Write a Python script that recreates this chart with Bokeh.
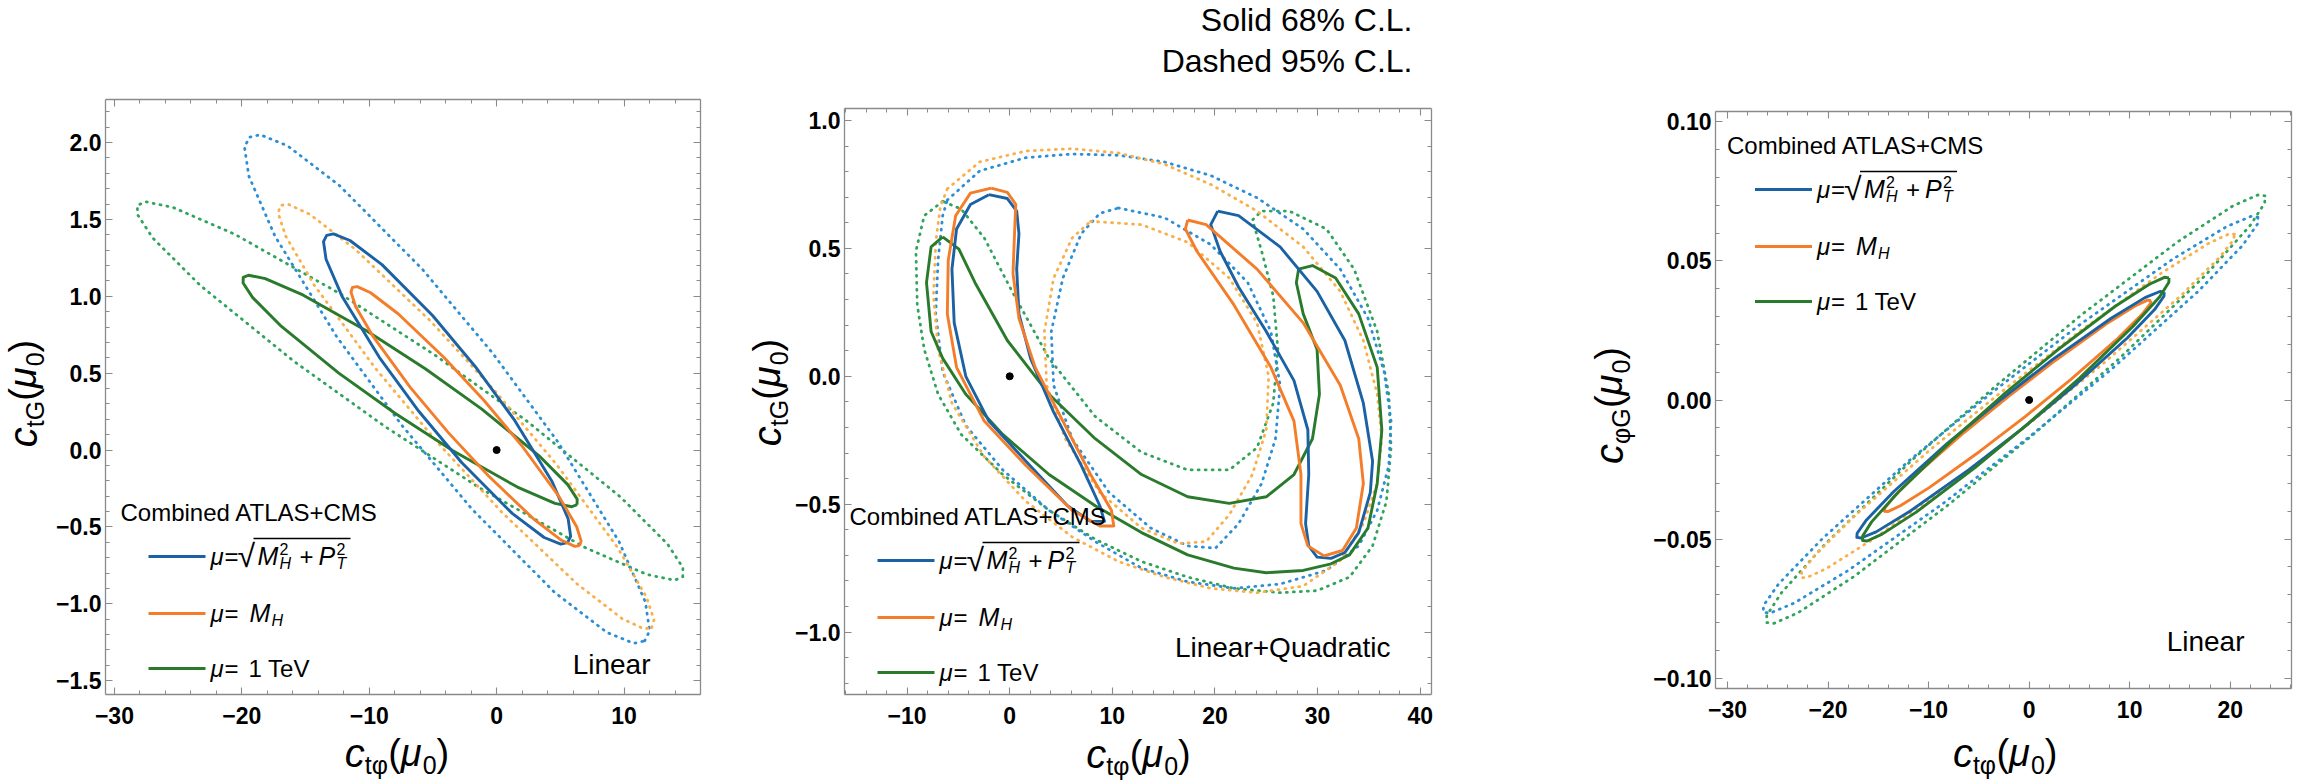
import math
from bokeh.plotting import figure
from bokeh.layouts import row
from bokeh.models import (Label, Arrow, LinearAxis, Range1d, SingleIntervalTicker,
                          CustomJSTickFormatter, CustomLabelingPolicy)
from bokeh.embed import file_html
from bokeh.resources import INLINE

# ---------------- data: panel 1 (Linear, c_tphi vs c_tG) ----------------
p1_blue68_x = [5.56, 5.81, 5.61, 4.36, 1.43, -1.67, -5.03, -9.00, -11.51, -12.81, -13.34, -13.59, -13.39, -12.14, -9.21, -6.11, -2.75, 1.22, 3.73, 5.03]
p1_blue68_y = [-0.602, -0.562, -0.447, -0.207, 0.191, 0.542, 0.875, 1.206, 1.363, 1.406, 1.396, 1.356, 1.241, 1.001, 0.603, 0.252, -0.081, -0.412, -0.569, -0.612]
p1_blue95_x = [11.62, 12.01, 11.67, 9.61, 4.78, -0.31, -5.83, -12.33, -16.43, -18.55, -19.40, -19.79, -19.45, -17.39, -12.56, -7.47, -1.96, 4.55, 8.65, 10.77]
p1_blue95_y = [-1.241, -1.176, -0.988, -0.596, 0.056, 0.630, 1.176, 1.720, 1.980, 2.051, 2.035, 1.970, 1.782, 1.390, 0.738, 0.164, -0.382, -0.926, -1.186, -1.257]
p1_orange68_x = [6.52, 6.63, 6.28, 4.90, 1.98, -0.99, -4.13, -7.71, -9.89, -10.94, -11.32, -11.43, -11.08, -9.70, -6.78, -3.81, -0.67, 2.91, 5.09, 6.14]
p1_orange68_y = [-0.622, -0.591, -0.499, -0.303, 0.028, 0.322, 0.602, 0.885, 1.023, 1.063, 1.058, 1.027, 0.935, 0.739, 0.408, 0.115, -0.166, -0.449, -0.587, -0.627]
p1_orange95_x = [12.17, 12.35, 11.76, 9.51, 4.72, -0.13, -5.25, -11.10, -14.64, -16.36, -16.97, -17.15, -16.56, -14.31, -9.52, -4.67, 0.45, 6.30, 9.84, 11.56]
p1_orange95_y = [-1.155, -1.105, -0.956, -0.636, -0.096, 0.384, 0.844, 1.306, 1.532, 1.599, 1.591, 1.541, 1.392, 1.072, 0.532, 0.052, -0.408, -0.870, -1.096, -1.163]
p1_green68_x = [6.31, 6.32, 5.58, 3.31, -1.19, -5.60, -10.15, -15.21, -18.16, -19.48, -19.89, -19.90, -19.16, -16.89, -12.39, -7.98, -3.43, 1.63, 4.58, 5.90]
p1_green68_y = [-0.355, -0.319, -0.225, -0.036, 0.268, 0.529, 0.773, 1.009, 1.115, 1.137, 1.123, 1.087, 0.993, 0.804, 0.500, 0.239, -0.005, -0.241, -0.347, -0.369]
p1_green95_x = [14.61, 14.62, 13.41, 9.70, 2.33, -4.87, -12.30, -20.56, -25.37, -27.54, -28.19, -28.20, -26.99, -23.28, -15.91, -8.71, -1.28, 6.98, 11.79, 13.96]
p1_green95_y = [-0.824, -0.765, -0.611, -0.304, 0.191, 0.619, 1.017, 1.404, 1.577, 1.615, 1.592, 1.533, 1.379, 1.072, 0.577, 0.150, -0.249, -0.636, -0.809, -0.847]

# ---------------- data: panel 2 (Linear+Quadratic, c_tphi vs c_tG) ----------------
p2_blue68a_x = [-2.03, -0.23, 0.68, 0.90, 0.68, 0.90, 2.03, 4.28, 6.98, 8.78, 9.23, 7.88, 5.63, 1.58, -2.03, -4.28, -5.41, -5.63, -5.18, -3.83]
p2_blue68a_y = [0.710, 0.695, 0.646, 0.558, 0.419, 0.244, 0.070, -0.140, -0.349, -0.506, -0.567, -0.567, -0.506, -0.332, -0.175, 0.000, 0.209, 0.419, 0.576, 0.672]
p2_orange68a_x = [-1.80, -0.23, 0.59, 0.45, 0.32, 0.90, 2.48, 5.18, 7.88, 9.91, 10.14, 8.78, 6.08, 1.58, -2.48, -5.18, -6.08, -5.99, -5.27, -3.83]
p2_orange68a_y = [0.736, 0.719, 0.672, 0.541, 0.401, 0.227, 0.035, -0.175, -0.384, -0.524, -0.585, -0.585, -0.524, -0.349, -0.175, 0.035, 0.244, 0.454, 0.628, 0.716]
p2_blue68b_x = [20.27, 22.30, 26.35, 29.95, 32.66, 34.46, 35.36, 35.14, 34.01, 32.66, 31.31, 29.95, 29.14, 28.83, 29.14, 29.05, 27.70, 25.00, 22.30, 20.50, 19.59]
p2_blue68b_y = [0.646, 0.628, 0.506, 0.332, 0.140, -0.105, -0.332, -0.454, -0.611, -0.689, -0.712, -0.707, -0.663, -0.576, -0.384, -0.209, -0.017, 0.175, 0.349, 0.489, 0.593]
p2_orange68b_x = [17.34, 19.14, 24.10, 28.60, 32.21, 34.01, 34.46, 33.78, 32.43, 30.63, 29.05, 28.38, 28.38, 27.70, 25.45, 21.85, 18.24, 17.12]
p2_orange68b_y = [0.611, 0.593, 0.419, 0.209, -0.035, -0.244, -0.419, -0.593, -0.681, -0.702, -0.663, -0.576, -0.384, -0.175, 0.035, 0.279, 0.489, 0.576]
p2_green68_x = [-6.53, -7.66, -8.11, -7.66, -6.53, -4.28, -0.68, 3.83, 8.33, 12.84, 17.34, 21.85, 25.00, 28.60, 31.31, 33.11, 34.91, 35.81, 36.26, 35.81, 34.01, 31.76, 29.50, 28.15, 27.93, 28.60, 29.95, 30.18, 29.50, 27.70, 25.00, 21.40, 17.34, 12.84, 8.33, 3.83, -0.23, -3.38, -4.95]
p2_green68_y = [0.545, 0.506, 0.366, 0.175, 0.070, -0.070, -0.227, -0.384, -0.506, -0.611, -0.698, -0.750, -0.768, -0.759, -0.733, -0.698, -0.593, -0.419, -0.209, 0.035, 0.244, 0.384, 0.433, 0.419, 0.366, 0.244, 0.105, -0.070, -0.244, -0.384, -0.471, -0.497, -0.471, -0.384, -0.244, -0.070, 0.140, 0.366, 0.497]
p2_blue95o_x = [-6.08, -2.93, 1.58, 6.08, 10.59, 15.09, 19.59, 24.10, 28.60, 32.21, 34.91, 36.49, 37.16, 36.94, 35.81, 34.01, 30.86, 26.35, 21.85, 17.34, 12.84, 8.33, 3.83, -0.68, -4.28, -6.53, -7.21, -6.98, -6.53]
p2_blue95o_y = [0.689, 0.803, 0.855, 0.869, 0.864, 0.838, 0.785, 0.698, 0.576, 0.419, 0.227, 0.017, -0.175, -0.349, -0.524, -0.663, -0.759, -0.812, -0.829, -0.803, -0.750, -0.646, -0.524, -0.366, -0.192, 0.017, 0.244, 0.454, 0.628]
p2_blue95i_x = [10.59, 15.09, 19.59, 23.20, 25.45, 26.35, 25.90, 24.55, 22.30, 20.05, 17.34, 13.74, 9.68, 6.08, 4.28, 4.05, 5.18, 6.98, 8.78]
p2_blue95i_y = [0.658, 0.620, 0.515, 0.366, 0.175, -0.035, -0.244, -0.419, -0.576, -0.672, -0.663, -0.593, -0.454, -0.244, -0.035, 0.175, 0.384, 0.558, 0.637]
p2_orange95o_x = [-6.08, -2.93, 1.58, 6.08, 10.59, 15.09, 19.59, 24.10, 28.60, 32.21, 34.46, 35.81, 36.26, 35.81, 34.46, 32.21, 28.60, 24.10, 19.59, 15.09, 10.59, 6.08, 1.58, -2.48, -5.63, -6.98, -7.43, -7.21, -6.76]
p2_orange95o_y = [0.733, 0.838, 0.881, 0.890, 0.873, 0.829, 0.750, 0.646, 0.506, 0.332, 0.140, -0.070, -0.244, -0.419, -0.576, -0.720, -0.820, -0.846, -0.829, -0.785, -0.724, -0.628, -0.489, -0.314, -0.105, 0.105, 0.314, 0.524, 0.663]
p2_orange95i_x = [7.88, 12.84, 17.34, 21.40, 24.10, 25.23, 25.00, 23.65, 21.40, 19.14, 16.44, 12.84, 8.78, 5.41, 3.60, 3.38, 4.28, 6.08]
p2_orange95i_y = [0.606, 0.593, 0.524, 0.384, 0.209, 0.000, -0.209, -0.384, -0.541, -0.646, -0.654, -0.593, -0.454, -0.244, -0.035, 0.175, 0.384, 0.541]
p2_green95_x = [-6.53, -8.33, -9.14, -9.01, -8.33, -6.98, -4.73, -0.68, 3.83, 8.33, 12.84, 17.34, 21.85, 26.35, 29.95, 33.11, 35.36, 36.71, 37.16, 36.94, 35.81, 33.56, 30.86, 27.25, 24.55, 23.65, 24.55, 25.68, 26.13, 25.68, 24.10, 21.40, 17.34, 12.84, 8.33, 3.83, 0.23, -2.48, -4.73]
p2_green95_y = [0.684, 0.628, 0.489, 0.279, 0.105, -0.070, -0.227, -0.384, -0.524, -0.637, -0.724, -0.785, -0.829, -0.846, -0.838, -0.785, -0.663, -0.489, -0.279, -0.070, 0.175, 0.419, 0.576, 0.646, 0.646, 0.611, 0.489, 0.314, 0.105, -0.105, -0.279, -0.366, -0.366, -0.297, -0.157, 0.070, 0.332, 0.541, 0.654]

# ---------------- data: panel 3 (Linear, c_tphi vs c_phiG) ----------------
p3_blue68_x = [13.44, 13.01, 11.52, 8.16, 2.32, -2.98, -8.14, -13.46, -16.18, -17.11, -17.14, -16.71, -15.22, -11.86, -6.02, -0.72, 4.44, 9.76, 12.48, 13.41]
p3_blue68_y = [0.0388, 0.0390, 0.0368, 0.0294, 0.0145, -0.0003, -0.0156, -0.0329, -0.0431, -0.0479, -0.0494, -0.0496, -0.0474, -0.0400, -0.0251, -0.0104, 0.0050, 0.0223, 0.0325, 0.0373]
p3_blue95_x = [22.76, 22.07, 19.68, 14.27, 4.86, -3.66, -11.97, -20.53, -24.92, -26.41, -26.46, -25.77, -23.38, -17.97, -8.56, -0.04, 8.27, 16.83, 21.22, 22.71]
p3_blue95_y = [0.0657, 0.0660, 0.0624, 0.0506, 0.0266, 0.0028, -0.0219, -0.0497, -0.0661, -0.0738, -0.0763, -0.0766, -0.0730, -0.0612, -0.0372, -0.0134, 0.0113, 0.0391, 0.0555, 0.0632]
p3_green68_x = [13.91, 13.46, 11.96, 8.57, 2.72, -2.57, -7.71, -12.98, -15.67, -16.56, -16.57, -16.12, -14.62, -11.23, -5.38, -0.09, 5.05, 10.32, 13.01, 13.90]
p3_green68_y = [0.0439, 0.0441, 0.0416, 0.0337, 0.0177, 0.0019, -0.0146, -0.0330, -0.0438, -0.0489, -0.0505, -0.0507, -0.0482, -0.0403, -0.0243, -0.0085, 0.0080, 0.0264, 0.0372, 0.0423]
p3_green95_x = [23.46, 22.74, 20.29, 14.79, 5.27, -3.33, -11.69, -20.27, -24.64, -26.10, -26.12, -25.40, -22.95, -17.45, -7.93, 0.67, 9.03, 17.61, 21.98, 23.44]
p3_green95_y = [0.0734, 0.0737, 0.0698, 0.0569, 0.0308, 0.0050, -0.0217, -0.0517, -0.0693, -0.0774, -0.0800, -0.0803, -0.0764, -0.0635, -0.0374, -0.0116, 0.0151, 0.0451, 0.0627, 0.0708]
p3_orange68_x = [12.12, 11.78, 10.53, 7.66, 2.64, -1.95, -6.44, -11.09, -13.49, -14.34, -14.40, -14.06, -12.81, -9.94, -4.92, -0.33, 4.16, 8.81, 11.21, 12.06]
p3_orange68_y = [0.0358, 0.0359, 0.0338, 0.0273, 0.0143, 0.0016, -0.0116, -0.0263, -0.0349, -0.0388, -0.0400, -0.0401, -0.0380, -0.0315, -0.0185, -0.0058, 0.0074, 0.0221, 0.0307, 0.0346]
p3_orange95_x = [20.43, 19.88, 17.85, 13.19, 5.01, -2.45, -9.75, -17.31, -21.23, -22.62, -22.71, -22.16, -20.13, -15.47, -7.29, 0.17, 7.47, 15.03, 18.95, 20.34]
p3_orange95_y = [0.0596, 0.0597, 0.0563, 0.0457, 0.0246, 0.0038, -0.0176, -0.0415, -0.0555, -0.0618, -0.0638, -0.0639, -0.0605, -0.0499, -0.0288, -0.0080, 0.0134, 0.0373, 0.0513, 0.0576]

# Standard-model point
sm_x = [0.0]
sm_y = [0.0]

legend_title = "Combined ATLAS+CMS"
cl_lines = ["Solid 68% C.L.", "Dashed 95% C.L."]
panel_tags = ["Linear", "Linear+Quadratic", "Linear"]

# ---------------- styling ----------------
FONT = "Liberation Sans"
AXC = "#8a8a8a"
C_B68, C_O68, C_G68 = "#1b62a5", "#f47d2a", "#2a7a2c"
C_B95, C_O95, C_G95 = "#2c8fd4", "#f9b04a", "#31a35c"
FIG_H = 781
BASE_SHIFT = 0.345   # Bokeh places Label text centred on its anchor; lift it to a baseline

W = {" ": .278, "(": .333, ")": .333, "+": .584, "=": .584, "0": .556, "1": .556, "2": .556,
     "c": .5, "t": .278, "G": .778, "φ": .66, "μ": .576, "M": .833, "H": .722, "P": .667,
     "T": .611, "e": .556, "V": .667, "√": .549}

OFF = {}


def tw(s, size):
    return sum(W.get(ch, 0.556) for ch in s) * size


def label(p, x, y, text, size, style="normal", angle=0.0, align="left"):
    ox, oy = OFF[p.id]
    if angle == 0.0:
        y = y + BASE_SHIFT * size
    else:
        x = x - BASE_SHIFT * size
    p.add_layout(Label(x=x + ox, y=y + oy, x_units="screen", y_units="screen", text=text,
                       text_font=FONT, text_font_size=f"{size}px", text_font_style=style,
                       text_color="black", text_align=align, text_baseline="alphabetic",
                       angle=angle))


def rich(p, x, y, pieces, vertical=False):
    total = sum(tw(t, s) for t, s, st, dy in pieces)
    pos = -total / 2.0
    for t, s, st, dy in pieces:
        if vertical:
            label(p, x - dy, y + pos, t, s, st, angle=math.pi / 2)
        else:
            label(p, x + pos, y + dy, t, s, st)
        pos += tw(t, s)


def hline(p, x0, x1, y, color, width):
    ox, oy = OFF[p.id]
    p.add_layout(Arrow(end=None, x_start=x0 + ox, y_start=y + oy, x_end=x1 + ox, y_end=y + oy,
                       start_units="screen", end_units="screen",
                       line_color=color, line_width=width))


def legend(p, tx, ty):
    label(p, tx, ty, legend_title, 24)
    ys = [ty - 36, ty - 93, ty - 148]
    for yy, c in zip(ys, [C_B68, C_O68, C_G68]):
        hline(p, tx + 28, tx + 85, yy, c, 3)
    x0 = tx + 90
    b = ys[0] - 8
    e1 = [(0, 0, "μ", 24, "italic"), (14, 0, "=", 24, "normal"), (27, -3, "√", 32, "normal"),
          (47, 0, "M", 25, "italic"), (69, -5, "H", 16, "italic"), (69, 10, "2", 16, "normal"),
          (89, 0, "+", 24, "normal"), (108, 0, "P", 25, "italic"), (126, -5, "T", 16, "italic"),
          (126, 10, "2", 16, "normal")]
    for dx, dy, t, s, st in e1:
        label(p, x0 + dx, b + dy, t, s, st)
    hline(p, x0 + 43, x0 + 140, b + 26, "black", 1.3)
    b = ys[1] - 8
    for dx, dy, t, s, st in [(0, 0, "μ", 24, "italic"), (14, 0, "=", 24, "normal"),
                             (39, 0, "M", 25, "italic"), (61, -5, "H", 16, "italic")]:
        label(p, x0 + dx, b + dy, t, s, st)
    b = ys[2] - 8
    for dx, dy, t, s, st in [(0, 0, "μ", 24, "italic"), (14, 0, "=", 24, "normal"),
                             (38, 0, "1 TeV", 24, "normal")]:
        label(p, x0 + dx, b + dy, t, s, st)


NO_LABELS = "return []"


def style_axis(ax, interval, dec, show, standoff, loc, bounds):
    ax.fixed_location = loc
    ax.bounds = bounds
    ax.ticker = SingleIntervalTicker(interval=interval, num_minor_ticks=5)
    ax.formatter = CustomJSTickFormatter(
        code=f"var v = Math.abs(tick) < 1e-9 ? 0 : tick; return v.toFixed({dec}).replace('-', '\\u2212');")
    ax.major_tick_in = 7
    ax.major_tick_out = 0
    ax.minor_tick_in = 4
    ax.minor_tick_out = 0
    ax.axis_line_color = AXC
    ax.axis_line_width = 1.3
    ax.major_tick_line_color = AXC
    ax.minor_tick_line_color = AXC
    ax.major_tick_line_width = 1.1
    ax.minor_tick_line_width = 1.0
    ax.major_label_text_font = FONT
    ax.major_label_text_font_style = "bold"
    ax.major_label_text_color = "black"
    ax.major_label_text_font_size = "23px"
    ax.major_label_standoff = standoff
    if not show:
        ax.major_label_policy = CustomLabelingPolicy(code=NO_LABELS)
    ax.axis_label = None


def make_panel(fig_w, box, xr, yr, yint, ydec):
    bl, bt, bw, bh = box
    sx = bw / (xr[1] - xr[0])
    sy = bh / (yr[1] - yr[0])
    x0 = xr[0] - bl / sx
    x1 = xr[1] + (fig_w - bl - bw) / sx
    y1 = yr[1] + bt / sy
    y0 = yr[0] - (FIG_H - bt - bh) / sy
    p = figure(frame_width=fig_w, frame_height=FIG_H, x_range=Range1d(x0, x1),
               y_range=Range1d(y0, y1), min_border=0, output_backend="svg",
               toolbar_location=None, background_fill_color="white", border_fill_color="white")
    OFF[p.id] = (bl, FIG_H - bt - bh)
    p.grid.visible = False
    p.outline_line_color = None
    style_axis(p.xaxis[0], 10, 0, True, 12, yr[0], xr)
    style_axis(p.yaxis[0], yint, ydec, True, 4, xr[0], yr)
    ta = LinearAxis()
    style_axis(ta, 10, 0, False, 0, yr[1], xr)
    p.add_layout(ta, "above")
    ra = LinearAxis()
    style_axis(ra, yint, ydec, False, 0, xr[1], yr)
    p.add_layout(ra, "right")
    return p


def draw(p, curves):
    for xs, ys, color, dotted in curves:
        xx = list(xs) + [xs[0]]
        yy = list(ys) + [ys[0]]
        if dotted:
            p.line(xx, yy, line_color=color, line_width=2.8, line_dash="1 6", line_cap="round",
                   line_join="round")
        else:
            p.line(xx, yy, line_color=color, line_width=2.9, line_join="round")
    p.scatter(sm_x, sm_y, size=7, color="black")


XL = [("c", 40, "italic", 0), ("tφ", 25, "normal", -7), ("(", 38, "normal", 0),
      ("μ", 38, "italic", 0), ("0", 25, "normal", -7), (")", 38, "normal", 0)]
YL_tG = [("c", 40, "italic", 0), ("tG", 25, "normal", -7), ("(", 38, "normal", 0),
         ("μ", 38, "italic", 0), ("0", 25, "normal", -7), (")", 38, "normal", 0)]
YL_phiG = [("c", 40, "italic", 0), ("φG", 25, "normal", -7), ("(", 38, "normal", 0),
           ("μ", 38, "italic", 0), ("0", 25, "normal", -7), (")", 38, "normal", 0)]

# ---------------- panel 1 ----------------
p1 = make_panel(735, (105, 99, 595, 595), (-30.7, 16.0), (-1.59, 2.28), 0.5, 1)
draw(p1, [(p1_green95_x, p1_green95_y, C_G95, True), (p1_blue95_x, p1_blue95_y, C_B95, True),
          (p1_orange95_x, p1_orange95_y, C_O95, True),
          (p1_green68_x, p1_green68_y, C_G68, False), (p1_blue68_x, p1_blue68_y, C_B68, False),
          (p1_orange68_x, p1_orange68_y, C_O68, False)])
legend(p1, 15, 174)
label(p1, 545, 20, panel_tags[0], 28, align="right")
rich(p1, 291.5, -72, XL)
rich(p1, -69, 301, YL_tG, vertical=True)

# ---------------- panel 2 ----------------
p2 = make_panel(845, (109, 108, 587, 586), (-16.1, 41.1), (-1.244, 1.047), 0.5, 1)
draw(p2, [(p2_green95_x, p2_green95_y, C_G95, True),
          (p2_blue95o_x, p2_blue95o_y, C_B95, True), (p2_blue95i_x, p2_blue95i_y, C_B95, True),
          (p2_orange95o_x, p2_orange95o_y, C_O95, True), (p2_orange95i_x, p2_orange95i_y, C_O95, True),
          (p2_green68_x, p2_green68_y, C_G68, False),
          (p2_blue68a_x, p2_blue68a_y, C_B68, False), (p2_blue68b_x, p2_blue68b_y, C_B68, False),
          (p2_orange68a_x, p2_orange68a_y, C_O68, False), (p2_orange68b_x, p2_orange68b_y, C_O68, False)])
legend(p2, 5, 170)
label(p2, 546, 37, panel_tags[1], 28, align="right")
label(p2, 568, 663, cl_lines[0], 32, align="right")
label(p2, 568, 622, cl_lines[1], 32, align="right")
rich(p2, 294, -73, XL)
rich(p2, -64, 302, YL_tG, vertical=True)

# ---------------- panel 3 ----------------
p3 = make_panel(717, (135, 111, 576, 577), (-31.2, 26.1), (-0.1037, 0.1037), 0.05, 2)
draw(p3, [(p3_green95_x, p3_green95_y, C_G95, True), (p3_blue95_x, p3_blue95_y, C_B95, True),
          (p3_orange95_x, p3_orange95_y, C_O95, True),
          (p3_orange68_x, p3_orange68_y, C_O68, False), (p3_blue68_x, p3_blue68_y, C_B68, False),
          (p3_green68_x, p3_green68_y, C_G68, False)])
legend(p3, 11.5, 535)
label(p3, 529, 37, panel_tags[2], 28, align="right")
rich(p3, 289.7, -78, XL)
rich(p3, -93, 283, YL_phiG, vertical=True)

layout = row(p1, p2, p3)
open("out.html", "w").write(file_html(layout, INLINE, "Contours"))
